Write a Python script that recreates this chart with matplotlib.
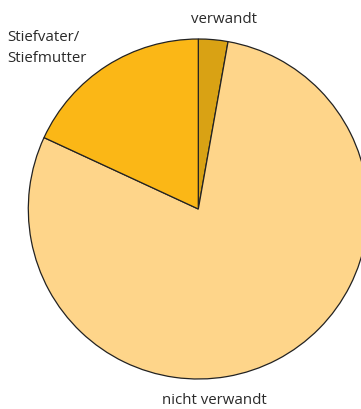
import matplotlib
matplotlib.use("Agg")
import matplotlib.pyplot as plt

labels = ["verwandt", "nicht verwandt", "Stiefvater/\nStiefmutter"]
values = [2.8, 79.1, 18.1]
colors = ["#D9A214", "#FED58A", "#FBB716"]

W, H = 361, 409
cx, cy, R = 198.3, 209.0, 170.0

fig = plt.figure(figsize=(W / 100, H / 100), dpi=100)
ax = fig.add_axes([0, 0, 1, 1])
ax.pie(values, colors=colors, startangle=90, counterclock=False,
       radius=1.0, center=(0, 0),
       wedgeprops=dict(edgecolor="#222222", linewidth=0.9))
ax.set_aspect("auto")
ax.set_xlim(-cx / R, (W - cx) / R)
ax.set_ylim(-(H - cy) / R, cy / R)
ax.axis("off")

font = dict(family="Open Sans", fontsize=10.8, color="#2a2a2a")

def ftext(x, y, s, **kw):
    fig.text(x / W, 1 - y / H, s, va="baseline", **font, **kw)

ftext(224.3, 22.7, "verwandt", ha="center")
ftext(7.3, 40.7, "Stiefvater/", ha="left")
ftext(7.3, 61.7, "Stiefmutter", ha="left")
ftext(214.3, 404.3, "nicht verwandt", ha="center")

fig.savefig("out.png", dpi=100)
